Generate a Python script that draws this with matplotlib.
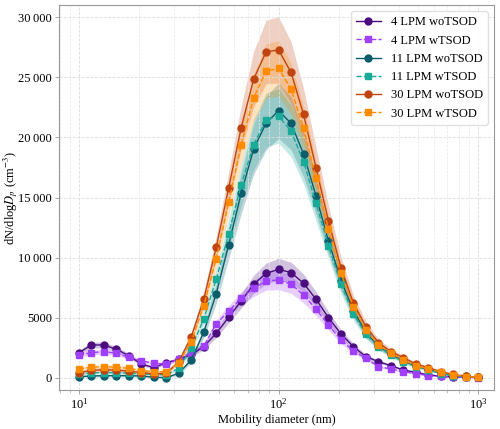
import numpy as np
import matplotlib
matplotlib.use("Agg")
import matplotlib.pyplot as plt
from matplotlib.ticker import FuncFormatter

plt.rcParams['font.family'] = ['Liberation Serif', 'DejaVu Serif']
plt.rcParams['mathtext.fontset'] = 'stix'

# mobility diameters (nm), 16 channels per decade
diam = [10.0, 11.55, 13.34, 15.40, 17.78, 20.54, 23.71, 27.38, 31.62, 36.52, 42.17,
        48.70, 56.23, 64.94, 74.99, 86.60, 100.0, 115.5, 133.4, 154.0, 177.8, 205.4,
        237.1, 273.8, 316.2, 365.2, 421.7, 487.0, 562.3, 649.4, 749.9, 866.0, 1000.0]

# mean concentrations dN/dlogDp
lpm4_wo = [2100, 2740, 2740, 2380, 1850, 1150, 860, 1270, 1550, 1950, 2600, 3710, 5040,
           6400, 7790, 8700, 9030, 8760, 7870, 6540, 5010, 3660, 2600, 1770, 1360, 1020,
           660, 470, 250, 140, 80, 60, 40]
lpm4_w = [1910, 2100, 2190, 2050, 1720, 1420, 1220, 1150, 1610, 2100, 2650, 4490, 5570,
          6620, 7450, 8060, 8150, 7790, 6900, 5730, 4400, 3160, 2240, 1640, 940, 750,
          520, 360, 190, 120, 70, 50, 30]
lpm11_wo = [110, 160, 190, 190, 190, 160, 60, 30, 390, 1500, 3800, 7010, 11080, 15350,
            19040, 21200, 22220, 21170, 18620, 15130, 11390, 8100, 5600, 3770, 2660,
            1960, 1420, 990, 700, 400, 200, 120, 70]
lpm11_w = [350, 420, 450, 430, 400, 330, 300, 260, 800, 2500, 4900, 8200, 12000, 16040,
           19400, 21450, 21780, 20530, 17980, 14520, 11000, 7790, 5320, 3630, 2600, 1910,
           1360, 940, 660, 360, 170, 100, 60]
lpm30_wo = [450, 620, 680, 640, 560, 450, 330, 380, 1350, 3430, 6540, 10860, 15820,
            20810, 24850, 27120, 27270, 25400, 21910, 17480, 13050, 9170, 6210, 4270,
            2940, 2190, 1690, 1160, 860, 520, 300, 140, 80]
lpm30_w = [750, 890, 940, 890, 800, 610, 520, 520, 1270, 3020, 5990, 9920, 14630, 19370,
           23270, 25520, 25740, 24020, 20750, 16600, 12360, 8700, 5930, 3990, 2740, 2050,
           1500, 1020, 750, 470, 250, 110, 60]

# standard deviations (shaded bands)
sd4_wo = [200, 250, 250, 230, 200, 150, 120, 130, 150, 200, 260, 360, 460, 600, 750, 850,
          920, 860, 760, 630, 490, 360, 260, 180, 130, 100, 70, 50, 35, 25, 20, 15, 10]
sd4_w = [180, 200, 200, 190, 170, 140, 120, 120, 150, 190, 240, 340, 450, 560, 680, 760,
         820, 760, 660, 540, 420, 300, 210, 150, 100, 75, 55, 40, 30, 20, 15, 12, 10]
sd11_wo = [80, 90, 100, 100, 100, 90, 80, 80, 120, 250, 450, 800, 1200, 1700, 2100, 2250,
           2300, 2200, 1900, 1500, 1100, 800, 560, 400, 280, 200, 150, 110, 80, 60, 40,
           30, 25]
sd11_w = [90, 100, 110, 110, 100, 90, 80, 80, 130, 280, 480, 820, 1200, 1700, 2100, 2250,
          2250, 2150, 1850, 1450, 1080, 780, 550, 390, 270, 200, 150, 110, 80, 60, 40,
          30, 25]
sd30_wo = [150, 180, 200, 180, 160, 140, 120, 130, 200, 350, 600, 900, 1300, 1800, 2300,
           2650, 2750, 2550, 2150, 1700, 1300, 900, 650, 450, 320, 240, 180, 130, 100,
           70, 50, 40, 30]
sd30_w = [150, 170, 180, 170, 150, 130, 110, 120, 180, 300, 550, 850, 1200, 1600, 2000,
          2250, 2300, 2150, 1800, 1500, 1100, 800, 580, 400, 290, 220, 160, 120, 90, 60,
          45, 35, 25]

labels = ['4 LPM woTSOD', '4 LPM wTSOD', '11 LPM woTSOD', '11 LPM wTSOD',
          '30 LPM woTSOD', '30 LPM wTSOD']
means = [lpm4_wo, lpm4_w, lpm11_wo, lpm11_w, lpm30_wo, lpm30_w]
sds = [sd4_wo, sd4_w, sd11_wo, sd11_w, sd30_wo, sd30_w]
colors = ['#4b0c80', '#a040ff', '#0b5d6b', '#1aaa98', '#c0440f', '#ff8c00']
markers = ['o', 's', 'o', 's', 'o', 's']
styles = ['-', '--', '-', '--', '-', '--']

fig = plt.figure(figsize=(5.0, 4.29), dpi=100)
ax = fig.add_axes([0.118, 0.091, 0.870, 0.897])

x = np.array(diam)
for lab, m, s, c, mk, ls in zip(labels, means, sds, colors, markers, styles):
    m = np.array(m, dtype=float)
    s = np.array(s, dtype=float)
    ax.fill_between(x, m - s, m + s, color=c, alpha=0.25, linewidth=0)
    ax.plot(x, m, color=c, marker=mk, linestyle=ls, linewidth=1.0,
            markersize=5, label=lab)

ax.set_xscale('log')
ax.set_xlim(7.94, 1200)
ax.set_ylim(-1000, 31000)
ax.set_yticks([0, 5000, 10000, 15000, 20000, 25000, 30000])


def fmt(v, pos):
    v = int(round(v))
    if abs(v) >= 10000:
        return '{:,}'.format(v).replace(',', '\u2009')
    return str(v)


ax.yaxis.set_major_formatter(FuncFormatter(fmt))
ax.grid(True, which='major', color='#dddddd', linestyle='--', linewidth=0.6)
ax.grid(True, which='minor', axis='x', color='#e8e8e8', linestyle='--', linewidth=0.5)
for sp in ax.spines.values():
    sp.set_color('#999999')
ax.tick_params(which='major', length=3, width=0.6, color='#999999',
               labelsize=9, labelcolor='black', pad=2)
ax.tick_params(which='minor', length=2, width=0.5, color='#aaaaaa')

ax.set_xlabel('Mobility diameter (nm)', fontsize=9, labelpad=2)
ax.set_ylabel(r'dN/dlog$D_p$ (cm$^{-3}$)', fontsize=9)
ax.yaxis.set_label_coords(-0.09, 0.5)

ax.legend(loc='upper right', fontsize=9, framealpha=0.9, edgecolor='#dddddd',
          handlelength=2.0)

fig.savefig('out.png', dpi=100)
